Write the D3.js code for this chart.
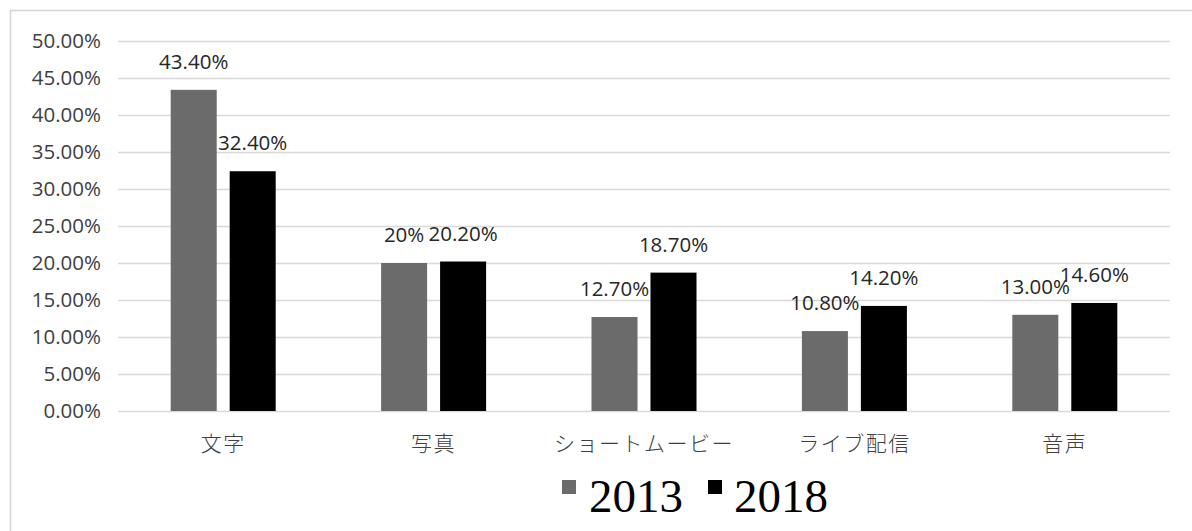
<!DOCTYPE html>
<html>
<head>
<meta charset="utf-8">
<script src="https://cdn.jsdelivr.net/npm/d3@7/dist/d3.min.js"></script>
<style>
  html, body { margin: 0; padding: 0; background: #fff; }
  svg { display: block; }
</style>
</head>
<body>
<svg id="chart" width="1192" height="531"></svg>
<script>
// Share of content types posted (%), 2013 vs 2018
const categories = ["文字", "写真", "ショートムービー", "ライブ配信", "音声"];
const seriesNames = ["2013", "2018"];
const values2013 = [43.4, 20.0, 12.7, 10.8, 13.0];
const values2018 = [32.4, 20.2, 18.7, 14.2, 14.6];
const labels2013 = ["43.40%", "20%", "12.70%", "10.80%", "13.00%"];
const labels2018 = ["32.40%", "20.20%", "18.70%", "14.20%", "14.60%"];
const yTicks = [0, 5, 10, 15, 20, 25, 30, 35, 40, 45, 50];
const colors = ["#6b6b6b", "#000000"];

const svg = d3.select("#chart");
const W = 1192, H = 531;

// outer chart frame
svg.append("rect")
  .attr("x", 10.5).attr("y", 10.5)
  .attr("width", W).attr("height", H)
  .attr("fill", "#fff").attr("stroke", "#d4d4d4").attr("stroke-width", 1.5);

const margin = { left: 118, right: 1170, top: 41, bottom: 411 };

const x0 = d3.scaleBand().domain(categories).range([margin.left, margin.right]).paddingInner(0).paddingOuter(0);
const x1 = d3.scaleBand().domain(seriesNames).range([0, 105]).paddingInner(0.22);
const y = d3.scaleLinear().domain([0, 50]).range([margin.bottom, margin.top]);

// gridlines + y tick labels
const yAxis = d3.axisLeft(y).tickValues(yTicks)
  .tickSize(-(margin.right - margin.left))
  .tickFormat(d => d.toFixed(2) + "%");
const gy = svg.append("g").attr("transform", `translate(${margin.left},0)`).call(yAxis);
gy.select(".domain").remove();
gy.selectAll(".tick line").attr("stroke", "#d9d9d9").attr("stroke-width", 1.5);
gy.selectAll(".tick text")
  .attr("x", -17)
  .attr("fill", "#404040")
  .style("font-family", "'Open Sans', 'Noto Sans', sans-serif")
  .style("font-size", "20.5px");

const rows = categories.map((c, i) => ({
  cat: c,
  vals: [
    { s: "2013", v: values2013[i], label: labels2013[i], color: colors[0] },
    { s: "2018", v: values2018[i], label: labels2018[i], color: colors[1] }
  ]
}));

const groups = svg.append("g").selectAll("g").data(rows).join("g")
  .attr("transform", d => `translate(${x0(d.cat) + x0.bandwidth() / 2 - 52.5},0)`);

groups.selectAll("rect").data(d => d.vals).join("rect")
  .attr("x", d => x1(d.s))
  .attr("y", d => y(d.v))
  .attr("width", x1.bandwidth())
  .attr("height", d => y(0) - y(d.v))
  .attr("fill", d => d.color);

groups.selectAll("text.val").data(d => d.vals).join("text")
  .attr("class", "val")
  .attr("x", d => x1(d.s) + x1.bandwidth() / 2)
  .attr("y", d => y(d.v) - 21)
  .attr("text-anchor", "middle")
  .attr("fill", "#262626")
  .style("font-family", "'Open Sans', 'Noto Sans', sans-serif")
  .style("font-size", "20.5px")
  .text(d => d.label);

// category axis labels
const gx = svg.append("g").attr("transform", `translate(0,${margin.bottom})`)
  .call(d3.axisBottom(x0).tickSize(0).tickPadding(0));
gx.select(".domain").remove();
gx.selectAll(".tick text")
  .attr("y", 40).attr("dy", null)
  .attr("fill", "#404040")
  .style("font-family", "'Noto Sans CJK JP', sans-serif")
  .style("font-weight", "300")
  .style("font-size", "21px")
  .style("letter-spacing", "1.5px");

// legend
const legendItems = [
  { name: "2013", color: colors[0], x: 562, tx: 589 },
  { name: "2018", color: colors[1], x: 708, tx: 734 }
];
const lg = svg.append("g");
legendItems.forEach(it => {
  lg.append("rect").attr("x", it.x).attr("y", 480).attr("width", 14).attr("height", 14).attr("fill", it.color);
  lg.append("text").attr("x", it.tx).attr("y", 512)
    .attr("fill", "#000")
    .style("font-family", "'Liberation Serif', 'Times New Roman', serif")
    .style("font-size", "47px")
    .text(it.name);
});
</script>
</body>
</html>
